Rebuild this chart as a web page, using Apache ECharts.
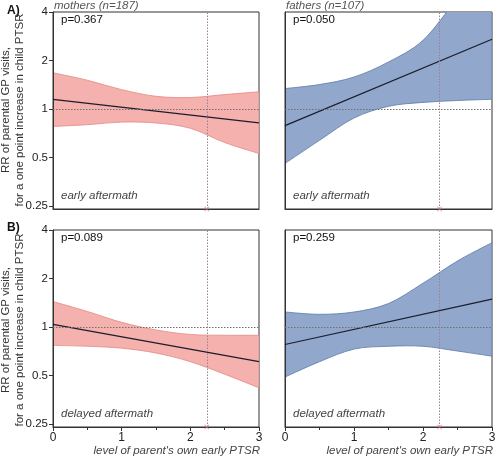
<!DOCTYPE html>
<html>
<head>
<meta charset="utf-8">
<script src="https://cdn.jsdelivr.net/npm/echarts@6/dist/echarts.min.js"></script>
<style>html,body{margin:0;padding:0;background:#fff}#c{width:500px;height:460px}</style>
</head>
<body>
<div id="c"></div>
<script>
// ---- data ----
var X_BAND = [0, 0.5, 1, 1.5, 2, 2.5, 3];
var X_FIT = [0, 3];
var X_TICKS = [0, 1, 2, 3];
var Y_TICKS = [0.25, 0.5, 1, 2, 4];
var Y_TICK_LABELS = ['0.25', '0.5', '1', '2', '4'];
var PARENT_MEAN = 2.24;

var mothersEarlyFit = [1.15, 0.82];
var mothersEarlyUpper = [1.68, 1.51, 1.32, 1.20, 1.18, 1.23, 1.28];
var mothersEarlyLower = [0.78, 0.80, 0.83, 0.82, 0.76, 0.62, 0.53];

var fathersEarlyFit = [0.79, 2.71];
var fathersEarlyUpper = [1.34, 1.42, 1.58, 1.96, 2.67, 4.8, 7.5];
var fathersEarlyLower = [0.46, 0.64, 0.88, 1.04, 1.10, 1.13, 1.15];

var mothersDelayedFit = [1.04, 0.61];
var mothersDelayedUpper = [1.44, 1.25, 1.07, 0.96, 0.90, 0.89, 0.89];
var mothersDelayedLower = [0.77, 0.76, 0.74, 0.69, 0.61, 0.51, 0.42];

var fathersDelayedFit = [0.78, 1.49];
var fathersDelayedUpper = [1.24, 1.20, 1.24, 1.40, 1.87, 2.57, 3.34];
var fathersDelayedLower = [0.49, 0.61, 0.73, 0.76, 0.76, 0.71, 0.66];

var P_VALUES = ['p=0.367', 'p=0.050', 'p=0.089', 'p=0.259'];
var PANEL_TAGS = ['early aftermath', 'early aftermath', 'delayed aftermath', 'delayed aftermath'];
var GROUP_TITLES = ['mothers (n=187)', 'fathers (n=107)'];
var ROW_TAGS = ['A)', 'B)'];
var Y_TITLE = 'RR of parental GP visits,\nfor a one point increase in child PTSR';
var X_TITLE = "level of parent's own early PTSR";

// ---- layout ----
var FONT = '"Liberation Sans", Arial, sans-serif';
var PINK = {fill: '#f4b1ae', stroke: '#e38884'};
var BLUE = {fill: '#91a8cc', stroke: '#5a78a8'};
var grids = [
  {left: 53, top: 12, width: 206, height: 197},
  {left: 285, top: 12, width: 207, height: 197},
  {left: 53, top: 230, width: 206, height: 197},
  {left: 285, top: 230, width: 207, height: 197}
];
var panels = [
  {fit: mothersEarlyFit, up: mothersEarlyUpper, lo: mothersEarlyLower, col: PINK},
  {fit: fathersEarlyFit, up: fathersEarlyUpper, lo: fathersEarlyLower, col: BLUE},
  {fit: mothersDelayedFit, up: mothersDelayedUpper, lo: mothersDelayedLower, col: PINK},
  {fit: fathersDelayedFit, up: fathersDelayedUpper, lo: fathersDelayedLower, col: BLUE}
];
var Y_MIN = 0.24, Y_MAX = 4;

function crPath(pts, move) {
  var d = (move ? 'M' : 'L') + pts[0][0] + ',' + pts[0][1];
  for (var i = 0; i < pts.length - 1; i++) {
    var p0 = pts[i - 1] || pts[i], p1 = pts[i], p2 = pts[i + 1], p3 = pts[i + 2] || pts[i + 1];
    var c1x = p1[0] + (p2[0] - p0[0]) / 6, c1y = p1[1] + (p2[1] - p0[1]) / 6;
    var c2x = p2[0] - (p3[0] - p1[0]) / 6, c2y = p2[1] - (p3[1] - p1[1]) / 6;
    d += 'C' + c1x + ',' + c1y + ',' + c2x + ',' + c2y + ',' + p2[0] + ',' + p2[1];
  }
  return d;
}

var xAxes = [], yAxes = [], series = [];
panels.forEach(function (p, i) {
  var bottom = i >= 2, left = (i % 2 === 0);
  xAxes.push({
    gridIndex: i, type: 'value', min: 0, max: 3, interval: 1,
    axisLine: {show: true, lineStyle: {color: '#333', width: 1}},
    axisTick: {show: bottom, length: 4, lineStyle: {color: '#333'}},
    minorTick: {show: bottom, splitNumber: 2, length: 3, lineStyle: {color: '#333'}},
    axisLabel: {show: bottom, fontSize: 12, color: '#222', margin: 5, fontFamily: FONT,
      customValues: X_TICKS},
    splitLine: {show: false}
  });
  yAxes.push({
    gridIndex: i, type: 'log', logBase: 2, min: Y_MIN, max: Y_MAX,
    axisLine: {show: true, lineStyle: {color: '#333', width: 1}},
    axisTick: {show: left, length: 4, lineStyle: {color: '#333'}, customValues: Y_TICKS},
    axisLabel: {show: left, fontSize: 11.5, color: '#222', margin: 5, fontFamily: FONT,
      customValues: Y_TICKS,
      formatter: function (v) {
        var k = -1;
        Y_TICKS.forEach(function (t, j) { if (Math.abs(t - v) < 1e-6) k = j; });
        return k >= 0 ? Y_TICK_LABELS[k] : '';
      }},
    splitLine: {show: false}
  });
  // confidence band
  series.push({
    type: 'custom', xAxisIndex: i, yAxisIndex: i, clip: true, silent: true, z: 0,
    data: X_BAND.map(function (x, k) { return [x, p.lo[k], p.up[k]]; }),
    encode: {x: 0, y: [1, 2]},
    renderItem: function (params, api) {
      if (params.dataIndex !== 0) return null;
      var upPts = X_BAND.map(function (x, k) { return api.coord([x, p.up[k]]); });
      var loPts = X_BAND.map(function (x, k) { return api.coord([x, p.lo[k]]); }).reverse();
      var d = crPath(upPts, true) + crPath(loPts, false) + 'Z';
      return {type: 'path', shape: {pathData: d},
        style: {fill: p.col.fill, stroke: p.col.stroke, lineWidth: 0.8}};
    }
  });
  // fitted line with reference lines
  series.push({
    type: 'line', xAxisIndex: i, yAxisIndex: i, z: 3, silent: true,
    data: X_FIT.map(function (x, k) { return [x, p.fit[k]]; }),
    symbol: 'none', lineStyle: {color: '#1c1c2c', width: 1.2},
    markLine: {
      silent: true, symbol: 'none', label: {show: false}, animation: false, z: 4,
      data: [
        {yAxis: 1, lineStyle: {type: [1.5, 1.5], color: '#707070', width: 1}},
        {xAxis: PARENT_MEAN, lineStyle: {type: [1.5, 1.5], color: '#9a8094', width: 1}}
      ]
    }
  });
  // red marker at mean on the x axis
  series.push({
    type: 'scatter', xAxisIndex: i, yAxisIndex: i, z: 4, silent: true, clip: false,
    data: [[PARENT_MEAN, Y_MIN]],
    symbol: 'path://M0,1L1,0L5,4L9,0L10,1L6,5L10,9L9,10L5,6L1,10L0,9L4,5Z',
    symbolSize: 5, itemStyle: {color: '#e06a6a'}
  });
});

var graphics = [];
ROW_TAGS.forEach(function (t, r) {
  graphics.push({type: 'text', left: 7, top: r === 0 ? 5 : 222,
    style: {text: t, font: 'bold 12px ' + FONT, fill: '#111'}});
  graphics.push({type: 'text', x: 13, y: r === 0 ? 110 : 330, rotation: Math.PI / 2,
    style: {text: Y_TITLE, font: '11.5px ' + FONT, fill: '#333', align: 'center',
      verticalAlign: 'middle', lineHeight: 14}});
});
GROUP_TITLES.forEach(function (t, c) {
  graphics.push({type: 'text', x: grids[c].left + 1, y: 6,
    style: {text: t, font: 'italic 11.5px ' + FONT, fill: '#555', verticalAlign: 'middle'}});
});
grids.forEach(function (g, i) {
  graphics.push({type: 'text', x: g.left + 8, y: g.top + 8,
    style: {text: P_VALUES[i], font: '11.5px ' + FONT, fill: '#111', verticalAlign: 'middle'}});
  graphics.push({type: 'text', x: g.left + 8, y: g.top + 184,
    style: {text: PANEL_TAGS[i], font: 'italic 11.5px ' + FONT, fill: '#444', verticalAlign: 'middle'}});
  if (i >= 2) {
    graphics.push({type: 'text', x: g.left + g.width + 1, y: 451,
      style: {text: X_TITLE, font: 'italic 11.5px ' + FONT, fill: '#444', align: 'right',
        verticalAlign: 'middle'}});
  }
});

var chart = echarts.init(document.getElementById('c'), null, {renderer: 'canvas'});
chart.setOption({
  animation: false,
  backgroundColor: '#fff',
  grid: grids.map(function (g) {
    return Object.assign({show: true, borderColor: '#333', borderWidth: 1,
      backgroundColor: 'transparent', containLabel: false}, g);
  }),
  xAxis: xAxes,
  yAxis: yAxes,
  series: series,
  graphic: graphics
});
</script>
</body>
</html>
